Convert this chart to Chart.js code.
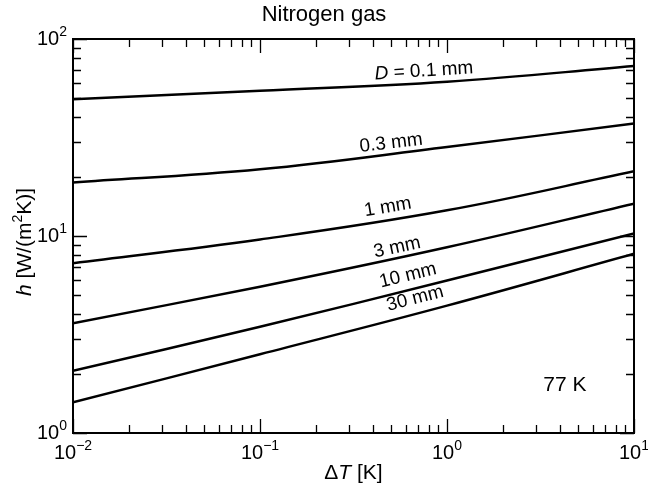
<!DOCTYPE html>
<html>
<head>
<meta charset="utf-8">
<script src="https://cdn.jsdelivr.net/npm/chart.js@4/dist/chart.umd.min.js"></script>
<style>
  html, body { margin: 0; padding: 0; background: #fff; }
  #wrap { width: 648px; height: 489px; }
</style>
</head>
<body>
<div id="wrap"><canvas id="c" width="648" height="489"></canvas></div>
<script>
// Temperature difference ΔT [K]
const deltaT = [0.01, 0.1, 1, 10];

// Heat transfer coefficient h [W/(m²K)] for each wire diameter D
const hD01 = [49.5, 54.6, 60.7, 72.9];
const hD03 = [18.7, 21.8, 28.3, 37.2];
const hD1  = [7.28, 9.6, 13.5, 21.3];
const hD3  = [3.61, 5.53, 8.77, 14.6];
const hD10 = [2.07, 3.46, 5.94, 10.3];
const hD30 = [1.43, 2.51, 4.43, 8.12];

const seriesNames = ['D = 0.1 mm', '0.3 mm', '1 mm', '3 mm', '10 mm', '30 mm'];
const seriesValues = [hD01, hD03, hD1, hD3, hD10, hD30];

// Decade exponents used for the tick labels
const xTickExponents = [-2, -1, 0, 1];
const yTickExponents = [0, 1, 2];

const chartTitle = 'Nitrogen gas';
const noteText = '77 K';

// Where each curve name sits (data coordinates) and its tilt in degrees
const labelPlacement = [
  { x: 0.753, y: 68.7, angle: -3.5 },
  { x: 0.502, y: 29.6, angle: -6.8 },
  { x: 0.483, y: 14.0, angle: -9.5 },
  { x: 0.541, y: 8.74, angle: -12 },
  { x: 0.619, y: 6.30, angle: -13.8 },
  { x: 0.675, y: 4.81, angle: -14.5 }
];
const notePlacement = { x: 4.27, y: 1.745 };

const FAMILY = '"Liberation Sans", Arial, Helvetica, sans-serif';
const font = (size, italic) => (italic ? 'italic ' : '') + size + 'px ' + FAMILY;

function drawRuns(ctx, runs, x, y, align) {
  let total = 0;
  runs.forEach(r => { ctx.font = r.font; r.w = ctx.measureText(r.text).width; total += r.w; });
  let cx = align === 'center' ? x - total / 2 : (align === 'right' ? x - total : x);
  runs.forEach(r => {
    ctx.font = r.font;
    ctx.fillText(r.text, cx, y + (r.dy || 0));
    cx += r.w;
  });
}

function powerRuns(exp) {
  const e = exp < 0 ? '\u2212' + Math.abs(exp) : String(exp);
  return [
    { text: '10', font: font(20) },
    { text: e, font: font(14), dy: -9 }
  ];
}

function nameRuns(name) {
  if (name.startsWith('D ')) {
    return [
      { text: 'D', font: font(19, true) },
      { text: name.slice(1), font: font(19) }
    ];
  }
  return [{ text: name, font: font(19) }];
}

const decorations = {
  id: 'decorations',
  afterDatasetsDraw(chart) {
    const { ctx, chartArea: a, scales: { x, y } } = chart;
    ctx.save();
    ctx.fillStyle = '#000';
    ctx.strokeStyle = '#000';

    // inward tick marks on all four sides
    ctx.lineWidth = 1.3;
    const majorLen = 14, minorLen = 8;
    ctx.beginPath();
    for (let e = xTickExponents[0]; e <= xTickExponents[xTickExponents.length - 1]; e++) {
      for (let m = 1; m < 10; m++) {
        const v = m * Math.pow(10, e);
        if (v < x.min * 0.999 || v > x.max * 1.001) continue;
        const px = Math.round(x.getPixelForValue(v)) + 0.5;
        const len = m === 1 ? majorLen : minorLen;
        ctx.moveTo(px, a.bottom); ctx.lineTo(px, a.bottom - len);
        ctx.moveTo(px, a.top); ctx.lineTo(px, a.top + len);
      }
    }
    for (let e = yTickExponents[0]; e <= yTickExponents[yTickExponents.length - 1]; e++) {
      for (let m = 1; m < 10; m++) {
        const v = m * Math.pow(10, e);
        if (v < y.min * 0.999 || v > y.max * 1.001) continue;
        const py = Math.round(y.getPixelForValue(v)) + 0.5;
        const len = m === 1 ? majorLen : minorLen;
        ctx.moveTo(a.left, py); ctx.lineTo(a.left + len, py);
        ctx.moveTo(a.right, py); ctx.lineTo(a.right - len, py);
      }
    }
    ctx.stroke();

    // frame
    ctx.lineWidth = 2;
    ctx.strokeRect(a.left, a.top, a.right - a.left, a.bottom - a.top);

    // tick labels
    ctx.textBaseline = 'alphabetic';
    xTickExponents.forEach(e => {
      drawRuns(ctx, powerRuns(e), x.getPixelForValue(Math.pow(10, e)), a.bottom + 26, 'center');
    });
    yTickExponents.forEach(e => {
      drawRuns(ctx, powerRuns(e), a.left - 6, y.getPixelForValue(Math.pow(10, e)) + 6, 'right');
    });

    // curve names
    ctx.textBaseline = 'middle';
    seriesNames.forEach((name, i) => {
      const p = labelPlacement[i];
      ctx.save();
      ctx.translate(x.getPixelForValue(p.x), y.getPixelForValue(p.y));
      ctx.rotate(p.angle * Math.PI / 180);
      drawRuns(ctx, nameRuns(name), 0, 0, 'center');
      ctx.restore();
    });

    // temperature note
    drawRuns(ctx, [{ text: noteText, font: font(21) }],
      x.getPixelForValue(notePlacement.x), y.getPixelForValue(notePlacement.y), 'center');

    // chart title
    ctx.textBaseline = 'alphabetic';
    drawRuns(ctx, [{ text: chartTitle, font: font(22) }], 324, 21, 'center');

    // x axis title
    drawRuns(ctx, [
      { text: '\u0394', font: font(21) },
      { text: 'T', font: font(21, true) },
      { text: ' [K]', font: font(21) }
    ], (a.left + a.right) / 2, 479, 'center');

    // y axis title
    ctx.save();
    ctx.translate(31, (a.top + a.bottom) / 2 + 6);
    ctx.rotate(-Math.PI / 2);
    drawRuns(ctx, [
      { text: 'h', font: font(21, true) },
      { text: ' [W/(m', font: font(21) },
      { text: '2', font: font(14), dy: -9 },
      { text: 'K)]', font: font(21) }
    ], 0, 0, 'center');
    ctx.restore();

    ctx.restore();
  }
};

new Chart(document.getElementById('c'), {
  type: 'line',
  data: {
    labels: deltaT,
    datasets: seriesValues.map((vals, i) => ({
      label: seriesNames[i],
      data: deltaT.map((t, k) => ({ x: t, y: vals[k] })),
      borderColor: '#000',
      borderWidth: 2.5,
      pointRadius: 0,
      fill: false,
      tension: 0.4
    }))
  },
  options: {
    responsive: false,
    animation: false,
    devicePixelRatio: 1,
    layout: { padding: { left: 73, right: 14, top: 39, bottom: 56 } },
    plugins: { legend: { display: false }, tooltip: { enabled: false }, title: { display: false } },
    scales: {
      x: { type: 'logarithmic', min: 0.01, max: 10, display: false },
      y: { type: 'logarithmic', min: 1, max: 100, display: false }
    }
  },
  plugins: [decorations]
});
</script>
</body>
</html>
